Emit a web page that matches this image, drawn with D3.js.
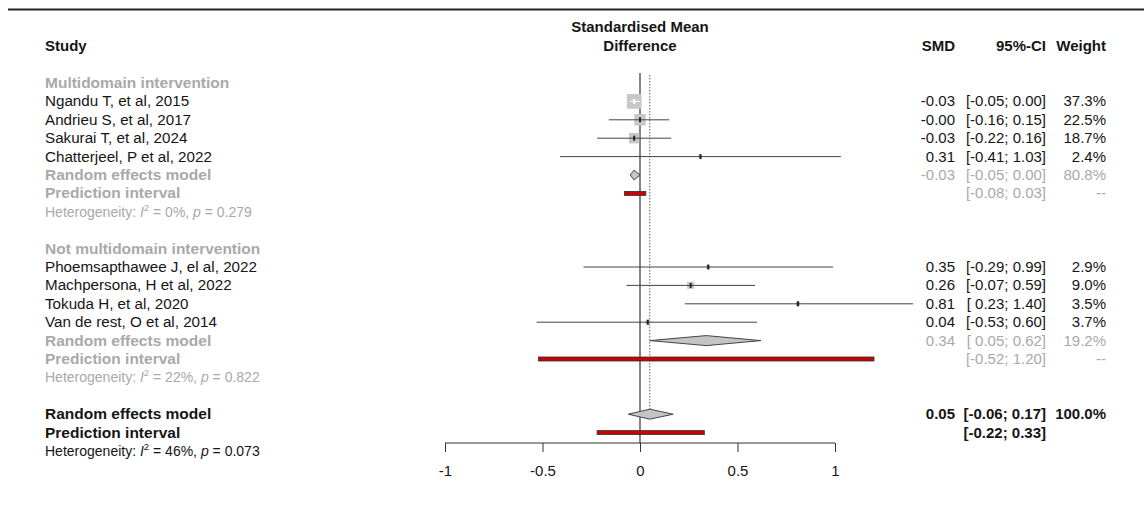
<!DOCTYPE html>
<html>
<head>
<meta charset="utf-8">
<script src="https://cdn.jsdelivr.net/npm/d3@7"></script>
<style>
  body { margin: 0; background: #fff; }
  svg { display: block; font-family: "Liberation Sans", Arial, Helvetica, sans-serif; }
  text { white-space: pre; }
</style>
</head>
<body>
<div class="chart"></div>
<script>
// forest plot, SMD with subgroups

const studyLabels = [
  'Ngandu T, et al, 2015', 'Andrieu S, et al, 2017', 'Sakurai T, et al, 2024', 'Chatterjeel, P et al, 2022',
  'Phoemsapthawee J, el al, 2022', 'Machpersona, H et al, 2022', 'Tokuda H, et al, 2020', 'Van de rest, O et al, 2014'
];
const studyGroup = [0, 0, 0, 0, 1, 1, 1, 1];
const studySmd = [-0.03, -0.00, -0.03, 0.31, 0.35, 0.26, 0.81, 0.04];
const studyLow = [-0.05, -0.16, -0.22, -0.41, -0.29, -0.07, 0.23, -0.53];
const studyHigh = [0.00, 0.15, 0.16, 1.03, 0.99, 0.59, 1.40, 0.60];
const studyWeight = [37.3, 22.5, 18.7, 2.4, 2.9, 9.0, 3.5, 3.7];

const groupNames = ['Multidomain intervention', 'Not multidomain intervention'];
const groupSmd = [-0.03, 0.34];
const groupLow = [-0.05, 0.05];
const groupHigh = [0.00, 0.62];
const groupWeight = [80.8, 19.2];
const groupPiLow = [-0.08, -0.52];
const groupPiHigh = [0.03, 1.20];
const groupI2 = ['0%', '22%'];
const groupP = ['0.279', '0.822'];

const overallSmd = 0.05;
const overallLow = -0.06;
const overallHigh = 0.17;
const overallPi = [-0.22, 0.33];
const overallI2 = '46%';
const overallP = '0.073';

const tickValues = [-1, -0.5, 0, 0.5, 1];
const tickLabels = ['-1', '-0.5', '0', '0.5', '1'];

const width = 1144;
const height = 507;
const grey = '#a9a9a9';
const ink = '#151515';

const fmt = v => (v < 0 || Object.is(v, -0) ? '-' : '') + Math.abs(v).toFixed(2);
const fmtCI = (lo, hi) => '[' + (lo < 0 ? fmt(lo) : ' ' + fmt(lo)) + '; ' + fmt(hi) + ']';

// build the row list
const rows = [];
groupNames.forEach((g, gi) => {
  rows.push({ type: 'group', gi });
  studyLabels.forEach((s, i) => { if (studyGroup[i] === gi) rows.push({ type: 'study', i }); });
  rows.push({ type: 'sub', gi });
  rows.push({ type: 'subpi', gi });
  rows.push({ type: 'subhet', gi });
  rows.push({ type: 'blank' });
});
rows.push({ type: 'all' });
rows.push({ type: 'allpi' });
rows.push({ type: 'allhet' });
rows.forEach((r, k) => r.k = k);

const x = d3.scaleLinear().domain([-1, 1]).range([445, 835]);
const y = d3.scaleLinear().domain([0, rows.length - 1]).range([83, 451]);
const sq = d3.scaleSqrt().domain([0, 100]).range([0, 24]);

const svg = d3.select('.chart').append('svg')
  .attr('width', width)
  .attr('height', height);

svg.append('rect').attr('width', width).attr('height', height).attr('fill', '#fff');

svg.append('line')
  .attr('x1', 8).attr('x2', width).attr('y1', 9.5).attr('y2', 9.5)
  .attr('stroke', '#222').attr('stroke-width', 2);

// headers
const head = svg.append('g').attr('font-weight', 'bold').attr('font-size', 15).attr('fill', ink);
head.append('text').attr('x', 45).attr('y', 51).text('Study');
head.append('text').attr('x', x(0)).attr('y', 32).attr('text-anchor', 'middle').text('Standardised Mean');
head.append('text').attr('x', x(0)).attr('y', 51).attr('text-anchor', 'middle').text('Difference');
head.append('text').attr('x', 955).attr('y', 51).attr('text-anchor', 'end').text('SMD');
head.append('text').attr('x', 1046).attr('y', 51).attr('text-anchor', 'end').text('95%-CI');
head.append('text').attr('x', 1106).attr('y', 51).attr('text-anchor', 'end').text('Weight');

// reference lines
svg.append('line')
  .attr('x1', x(0)).attr('x2', x(0)).attr('y1', 73).attr('y2', 443)
  .attr('stroke', '#333').attr('stroke-width', 1.2);
svg.append('line')
  .attr('x1', x(overallSmd)).attr('x2', x(overallSmd))
  .attr('y1', 75).attr('y2', y(rows.length - 3) - 5)
  .attr('stroke', '#666').attr('stroke-width', 1).attr('stroke-dasharray', '1.5,1.5');

// axis
const axis = svg.append('g').attr('transform', 'translate(0,443)')
  .call(d3.axisBottom(x).tickValues(tickValues).tickFormat((d, i) => tickLabels[i]).tickSize(9).tickPadding(13));
axis.select('.domain').attr('stroke', '#333').attr('d', `M${x(-1)},0H${x(1)}`);
axis.selectAll('.tick line').attr('stroke', '#333');
axis.selectAll('.tick text').attr('font-size', 15).attr('fill', ink)
  .attr('font-family', '"Liberation Sans", Arial, sans-serif');

function hetText(g, yy, i2, p, col) {
  const t = g.append('text').attr('x', 45).attr('y', yy + 5).attr('font-size', 14).attr('fill', col);
  t.append('tspan').text('Heterogeneity: ');
  t.append('tspan').attr('font-style', 'italic').text('I');
  t.append('tspan').attr('font-size', 9.5).attr('dy', -6).text('2');
  t.append('tspan').attr('dy', 6).text(' = ' + i2 + ', ');
  t.append('tspan').attr('font-style', 'italic').text('p');
  t.append('tspan').text(' = ' + p);
}

function rightCols(g, yy, s, ci, w, col, bold) {
  const t = g.append('g').attr('fill', col).attr('font-size', 15).attr('font-weight', bold ? 'bold' : 'normal')
    .attr('text-anchor', 'end');
  if (s !== null) t.append('text').attr('x', 955).attr('y', yy + 5).text(s);
  t.append('text').attr('x', 1046).attr('y', yy + 5).text(ci);
  t.append('text').attr('x', 1106).attr('y', yy + 5).text(w);
}

function diamond(g, yy, est, lo, hi) {
  g.append('path')
    .attr('d', `M${x(lo)},${yy}L${x(est)},${yy - 5}L${x(hi)},${yy}L${x(est)},${yy + 5}Z`)
    .attr('fill', '#c4c4c4').attr('stroke', '#444').attr('stroke-width', 1);
}

function piBar(g, yy, lo, hi) {
  g.append('rect')
    .attr('x', x(lo)).attr('y', yy - 2).attr('width', x(hi) - x(lo)).attr('height', 4)
    .attr('fill', '#cc0000').attr('stroke', '#333').attr('stroke-width', 0.8);
}

function boldLabel(g, yy, txt, col) {
  g.append('text').attr('x', 45).attr('y', yy + 5).attr('font-size', 15.5)
    .attr('font-weight', 'bold').attr('fill', col).text(txt);
}

const body = svg.append('g');

rows.forEach(r => {
  const yy = y(r.k);
  if (r.type === 'group') {
    boldLabel(body, yy, groupNames[r.gi], grey);
  } else if (r.type === 'study') {
    const i = r.i;
    body.append('text').attr('x', 45).attr('y', yy + 5).attr('font-size', 15.2)
      .attr('fill', ink).text(studyLabels[i]);
    const side = sq(studyWeight[i]);
    const inside = (x(studyHigh[i]) - x(studyLow[i])) < side;
    body.append('rect')
      .attr('x', x(studySmd[i]) - side / 2).attr('y', yy - side / 2)
      .attr('width', side).attr('height', side).attr('fill', '#c8c8c8');
    const lc = inside ? '#fff' : '#444';
    body.append('line')
      .attr('x1', x(studyLow[i])).attr('x2', x(studyHigh[i])).attr('y1', yy).attr('y2', yy)
      .attr('stroke', lc).attr('stroke-width', 1);
    body.append('rect')
      .attr('x', x(studySmd[i]) - 1).attr('y', yy - 2.5).attr('width', 2).attr('height', 5)
      .attr('fill', inside ? '#fff' : '#222');
    rightCols(body, yy, fmt(studySmd[i]), fmtCI(studyLow[i], studyHigh[i]),
      studyWeight[i].toFixed(1) + '%', ink, false);
  } else if (r.type === 'sub') {
    boldLabel(body, yy, 'Random effects model', grey);
    diamond(body, yy, groupSmd[r.gi], groupLow[r.gi], groupHigh[r.gi]);
    rightCols(body, yy, fmt(groupSmd[r.gi]), fmtCI(groupLow[r.gi], groupHigh[r.gi]),
      groupWeight[r.gi].toFixed(1) + '%', grey, false);
  } else if (r.type === 'subpi') {
    boldLabel(body, yy, 'Prediction interval', grey);
    piBar(body, yy, groupPiLow[r.gi], groupPiHigh[r.gi]);
    rightCols(body, yy, null, fmtCI(groupPiLow[r.gi], groupPiHigh[r.gi]), '--', grey, false);
  } else if (r.type === 'subhet') {
    hetText(body, yy, groupI2[r.gi], groupP[r.gi], grey);
  } else if (r.type === 'all') {
    boldLabel(body, yy, 'Random effects model', ink);
    diamond(body, yy, overallSmd, overallLow, overallHigh);
    rightCols(body, yy, fmt(overallSmd), fmtCI(overallLow, overallHigh), '100.0%', ink, true);
  } else if (r.type === 'allpi') {
    boldLabel(body, yy, 'Prediction interval', ink);
    piBar(body, yy, overallPi[0], overallPi[1]);
    rightCols(body, yy, null, fmtCI(overallPi[0], overallPi[1]), '', ink, true);
  } else if (r.type === 'allhet') {
    hetText(body, yy, overallI2, overallP, ink);
  }
});
</script>
</body>
</html>
